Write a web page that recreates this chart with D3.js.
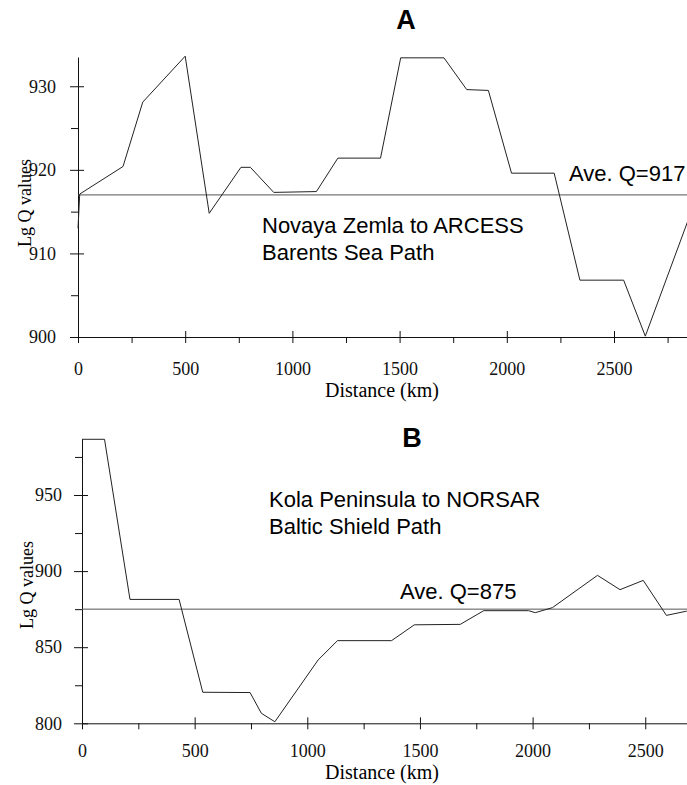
<!DOCTYPE html>
<html>
<head>
<meta charset="utf-8">
<script src="https://cdn.jsdelivr.net/npm/d3@7"></script>
<style>
  body { margin: 0; background: #fff; }
  svg { display: block; }
  .tick text { font-family: "Liberation Serif", "Times New Roman", serif; font-size: 18px; fill: #111; }
  .axis path, .axis line { stroke: #111; stroke-width: 1; }
</style>
</head>
<body>
<div id="chart"></div>
<script>
// Panel A: Novaya Zemla to ARCESS
const distA = [0, 8, 210, 302, 500, 612, 760, 804, 913, 1112, 1212, 1411, 1505, 1707, 1813, 1914, 2022, 2221, 2341, 2545, 2646, 2846];
const qA = [913, 917.1, 920.4, 928.1, 933.6, 914.8, 920.3, 920.3, 917.3, 917.4, 921.4, 921.4, 933.4, 933.4, 929.6, 929.5, 919.6, 919.6, 906.8, 906.8, 900.1, 914];
const aveA = 917;

// Panel B: Kola Peninsula to NORSAR
const distB = [0, 100, 213, 431, 536, 746, 796, 856, 1048, 1134, 1374, 1475, 1679, 1783, 1982, 2012, 2088, 2288, 2388, 2491, 2594, 2684];
const qB = [986.6, 986.6, 881.4, 881.4, 820.4, 820.2, 806.6, 801, 841.6, 854.3, 854.3, 864.7, 865, 874, 874, 872.7, 876, 897.2, 887.8, 893.9, 870.9, 873.7];
const aveB = 875;

// Ticks
const xMajor = [0, 500, 1000, 1500, 2000, 2500];
const xMinorA = [250, 750, 1250, 1750, 2250, 2750];
const xMinorB = [250, 750, 1250, 1750, 2250];
const yMajorA = [900, 910, 920, 930];
const yMinorA = [905, 915, 925];
const yMajorB = [800, 850, 900, 950];
const yMinorB = [825, 875, 925, 975];

const W = 687, H = 785;

const svg = d3.select("#chart").append("svg")
    .attr("width", W)
    .attr("height", H);

svg.append("rect").attr("width", W).attr("height", H).attr("fill", "#fff");

function drawPanel(cfg) {
    const g = svg.append("g");

    const x = d3.scaleLinear().domain(cfg.xDomain).range(cfg.xRange);
    const y = d3.scaleLinear().domain(cfg.yDomain).range(cfg.yRange);
    const y0 = y(cfg.yDomain[0]);
    const x0 = x(0);

    // y axis: labelled majors (outside), inner half of majors, minors
    g.append("g").attr("class", "axis")
        .attr("transform", `translate(${x0},0)`)
        .call(d3.axisLeft(y).tickValues(cfg.yMajor).tickSize(8).tickSizeOuter(0)
            .tickPadding(cfg.yPad).tickFormat(d3.format("d")));
    g.append("g").attr("class", "axis")
        .attr("transform", `translate(${x0},0)`)
        .call(d3.axisLeft(y).tickValues(cfg.yMajor).tickSize(-6).tickSizeOuter(0).tickFormat(""))
        .call(a => a.select(".domain").remove());
    g.append("g").attr("class", "axis")
        .attr("transform", `translate(${x0},0)`)
        .call(d3.axisLeft(y).tickValues(cfg.yMinor).tickSize(7).tickFormat(""))
        .call(a => a.select(".domain").remove());

    // x axis
    g.append("g").attr("class", "axis")
        .attr("transform", `translate(0,${y0})`)
        .call(d3.axisBottom(x).tickValues(xMajor).tickSize(6).tickSizeOuter(0)
            .tickPadding(cfg.xPad).tickFormat(d3.format("d")));
    g.append("g").attr("class", "axis")
        .attr("transform", `translate(0,${y0})`)
        .call(d3.axisBottom(x).tickValues(xMajor).tickSize(-6).tickSizeOuter(0).tickFormat(""))
        .call(a => a.select(".domain").remove());
    g.append("g").attr("class", "axis")
        .attr("transform", `translate(0,${y0})`)
        .call(d3.axisBottom(x).tickValues(cfg.xMinor).tickSize(6).tickFormat(""))
        .call(a => a.select(".domain").remove());

    // average line
    g.append("line")
        .attr("x1", x0).attr("x2", W)
        .attr("y1", y(cfg.ave)).attr("y2", y(cfg.ave))
        .attr("stroke", "#555").attr("stroke-width", 1);

    // Q curve
    const pts = cfg.dist.map((d, i) => [d, cfg.q[i]]);
    g.append("path")
        .datum(pts)
        .attr("fill", "none")
        .attr("stroke", "#222")
        .attr("stroke-width", 1)
        .attr("d", d3.line().x(d => x(d[0])).y(d => y(d[1])));

    // panel letter
    g.append("text")
        .attr("x", cfg.letterX).attr("y", cfg.letterY)
        .attr("text-anchor", "middle")
        .style("font-family", "'Liberation Sans', Arial, sans-serif")
        .style("font-weight", "bold")
        .style("font-size", "27px")
        .text(cfg.letter);

    // path description
    cfg.desc.forEach((t, i) => {
        g.append("text")
            .attr("x", cfg.descX).attr("y", cfg.descY + i * 27)
            .style("font-family", "'Liberation Sans', Arial, sans-serif")
            .style("font-size", "22px")
            .text(t);
    });

    // average label
    g.append("text")
        .attr("x", cfg.aveX).attr("y", cfg.aveY)
        .style("font-family", "'Liberation Sans', Arial, sans-serif")
        .style("font-size", "22px")
        .text(`Ave. Q=${cfg.ave}`);

    // axis titles
    g.append("text")
        .attr("x", cfg.xLabelX).attr("y", cfg.xLabelY)
        .attr("text-anchor", "middle")
        .style("font-family", "'Liberation Serif', 'Times New Roman', serif")
        .style("font-size", "20px")
        .text("Distance (km)");

    g.append("text")
        .attr("transform", `translate(${cfg.yLabelX},${cfg.yLabelY}) rotate(-90)`)
        .attr("text-anchor", "middle")
        .style("font-family", "'Liberation Serif', 'Times New Roman', serif")
        .style("font-size", "18px")
        .text("Lg Q values");
}

drawPanel({
    dist: distA, q: qA, ave: aveA,
    xDomain: [0, 2850], xRange: [78, 78 + 0.2144 * 2850],
    yDomain: [900, 933.5], yRange: [337, 57],
    yMajor: yMajorA, yMinor: yMinorA, xMinor: xMinorA,
    yPad: 14, xPad: 19,
    letter: "A", letterX: 406, letterY: 29,
    desc: ["Novaya Zemla to ARCESS", "Barents Sea Path"], descX: 262, descY: 233,
    aveX: 569, aveY: 181,
    xLabelX: 382, xLabelY: 397,
    yLabelX: 31, yLabelY: 203
});

drawPanel({
    dist: distB, q: qB, ave: aveB,
    xDomain: [0, 2700], xRange: [82, 82 + 0.2253 * 2700],
    yDomain: [800, 987], yRange: [723.3, 723.3 - 1.522 * 187],
    yMajor: yMajorB, yMinor: yMinorB, xMinor: xMinorB,
    yPad: 12, xPad: 15,
    letter: "B", letterX: 412, letterY: 447,
    desc: ["Kola Peninsula to NORSAR", "Baltic Shield Path"], descX: 269, descY: 507,
    aveX: 400, aveY: 599,
    xLabelX: 382, xLabelY: 779,
    yLabelX: 33, yLabelY: 585
});
</script>
</body>
</html>
